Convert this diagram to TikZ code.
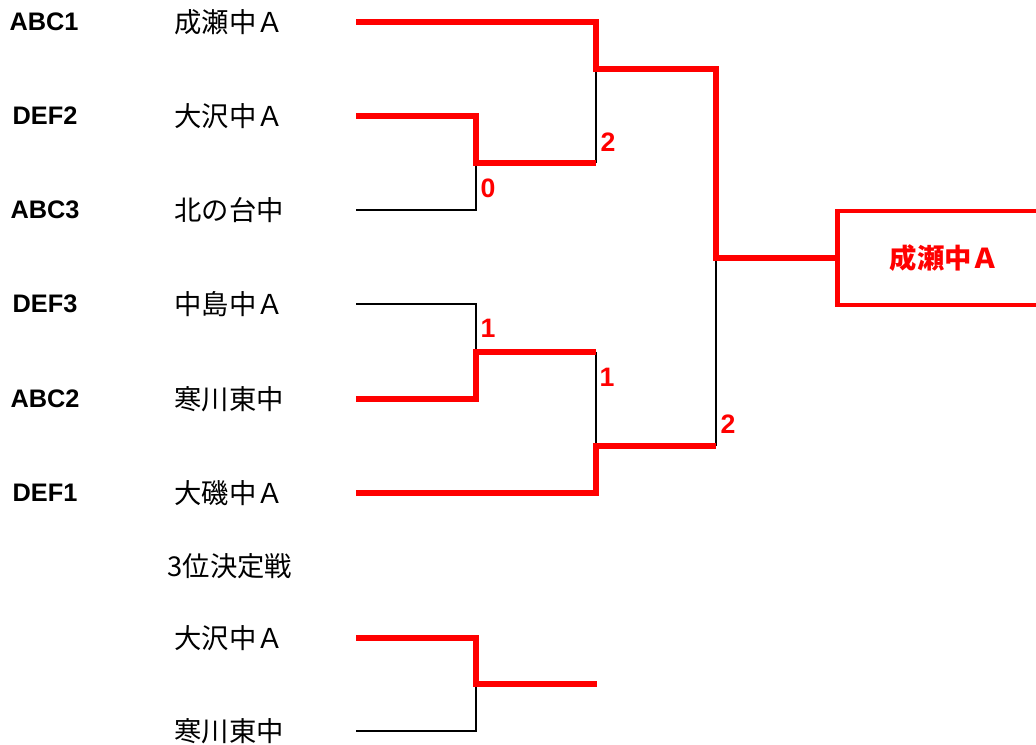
\documentclass[tikz,border=0pt]{standalone}
\usepackage{fontspec}
\newfontfamily\jpfont{Noto Sans CJK JP}
\newfontfamily\latfont{Liberation Sans}
\definecolor{winred}{RGB}{255,0,0}
\tikzset{
  seed/.style={font=\latfont\bfseries\fontsize{19}{21}\selectfont, inner sep=0pt},
  team/.style={font=\jpfont\fontsize{20.5}{22}\selectfont, inner sep=0pt},
  score/.style={font=\latfont\bfseries\fontsize{20}{22}\selectfont, text=winred, inner sep=0pt},
  win/.style={draw=winred, line width=5.2pt, line join=miter},
  lose/.style={draw=black, line width=2pt},
  champbox/.style={draw=winred, line width=3.7pt, minimum width=160.5pt, minimum height=70.5pt,
    font=\jpfont\bfseries\fontsize{20.5}{22}\selectfont, text=winred, anchor=west}
}
\begin{document}
\begin{tikzpicture}[x=0.75pt, y=-0.75pt]
    \useasboundingbox (0,0) rectangle (1036,745);
    \clip (0,0) rectangle (1036,745);

    % seeds
    \node[seed] (sd1) at (44,22) {ABC1};
    \node[seed] (sd2) at (45,116) {DEF2};
    \node[seed] (sd3) at (45,210) {ABC3};
    \node[seed] (sd4) at (45,304) {DEF3};
    \node[seed] (sd5) at (45,399) {ABC2};
    \node[seed] (sd6) at (45,493) {DEF1};

    % teams
    \node[team] (tm1) at (229,22) {成瀬中Ａ};
    \node[team] (tm2) at (229,116) {大沢中Ａ};
    \node[team] (tm3) at (229,210) {北の台中};
    \node[team] (tm4) at (229,304) {中島中Ａ};
    \node[team] (tm5) at (229,399) {寒川東中};
    \node[team] (tm6) at (229,493) {大磯中Ａ};
    \node[team] (third) at (230,566) {3位決定戦};
    \node[team] (tm7) at (229,638) {大沢中Ａ};
    \node[team] (tm8) at (229,731) {寒川東中};

    % line starts
    \coordinate (r1) at (356,22);
    \coordinate (r2) at (356,116);
    \coordinate (r3) at (356,210);
    \coordinate (r4) at (356,304);
    \coordinate (r5) at (356,399);
    \coordinate (r6) at (356,493);
    \coordinate (r7) at (356,638);
    \coordinate (r8) at (356,731);

    % junctions
    \coordinate (q1) at (476,163);
    \coordinate (q2) at (476,352);
    \coordinate (h1) at (596,69);
    \coordinate (h2) at (596,446);
    \coordinate (fin) at (716,258);
    \coordinate (p3) at (476,684);
    \coordinate (p3end) at (597,684);

    \node[champbox] (champ) at (835,258) {成瀬中Ａ};

    % losers
    \draw[lose] (r3) -| (q1);
    \draw[lose] (r4) -| (q2);
    \draw[lose] (q1 -| h1) -- (h1);
    \draw[lose] (q2 -| h2) -- (h2);
    \draw[lose] (h2 -| fin) -- (fin);
    \draw[lose] (r8) -| (p3);

    % winners
    \draw[win] (r2) -| (q1) -- (q1 -| h1);
    \draw[win] (r5) -| (q2) -- (q2 -| h2);
    \draw[win] (r1) -| (h1) -| (fin) -- (champ.west);
    \draw[win] (r6) -| (h2) -- (h2 -| fin);
    \draw[win] (r7) -| (p3) -- (p3end);

    % scores
    \node[score] (sc1) at (488,188) {0};
    \node[score] (sc2) at (608,142) {2};
    \node[score] (sc3) at (488,328) {1};
    \node[score] (sc4) at (607,377) {1};
    \node[score] (sc5) at (728,424) {2};
\end{tikzpicture}
\end{document}
